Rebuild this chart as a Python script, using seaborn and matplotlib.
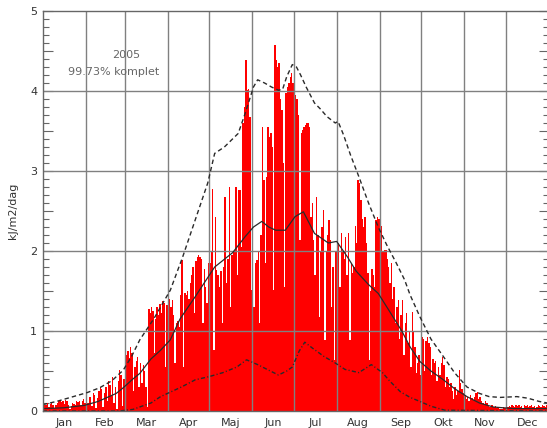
import numpy as np
import pandas as pd
import matplotlib
matplotlib.use("Agg")
import matplotlib.pyplot as plt
import seaborn as sns
from matplotlib.ticker import MultipleLocator, FixedLocator, FuncFormatter

# Month names and lengths (2005)
months = ["Jan", "Feb", "Mar", "Apr", "Maj", "Jun", "Jul", "Aug", "Sep", "Okt", "Nov", "Dec"]
month_days = [31, 28, 31, 30, 31, 30, 31, 31, 30, 31, 30, 31]

# Daily global radiation, kJ/m2/dag
jan = [0.06, 0.08, 0.07, 0.10, 0.05, 0.09, 0.11, 0.08, 0.04, 0.07, 0.10, 0.12, 0.14, 0.11, 0.13, 0.09,
       0.14, 0.12, 0.08, 0.03, 0.06, 0.10, 0.09, 0.07, 0.12, 0.11, 0.13, 0.08, 0.12, 0.15, 0.10]
feb = [0.14, 0.10, 0.18, 0.18, 0.06, 0.22, 0.20, 0.04, 0.16, 0.25, 0.30, 0.27, 0.05, 0.22, 0.30, 0.12,
       0.37, 0.33, 0.20, 0.43, 0.10, 0.30, 0.03, 0.38, 0.51, 0.45, 0.06, 0.40]
mar = [0.72, 0.70, 0.75, 0.66, 0.80, 0.72, 0.25, 0.55, 0.62, 0.68, 0.30, 0.60, 0.35, 0.58, 0.50, 0.30,
       0.05, 1.27, 1.22, 1.30, 1.25, 0.72, 1.15, 1.30, 1.20, 1.34, 1.22, 1.38, 1.35, 0.55, 1.32]
apr = [1.36, 1.40, 1.30, 1.39, 1.20, 0.60, 1.10, 1.12, 1.05, 1.45, 1.89, 0.55, 1.47, 1.45, 1.50,
       1.40, 1.60, 1.70, 1.80, 1.22, 1.88, 1.93, 1.95, 1.92, 1.90, 1.10, 1.78, 1.55, 1.35, 1.85]
maj = [1.85, 2.00, 2.78, 0.76, 2.43, 1.76, 1.70, 1.55, 1.75, 1.10, 1.80, 2.68, 1.60, 1.90, 2.80, 1.30,
       1.95, 2.00, 2.00, 2.80, 1.70, 2.76, 2.76, 2.05, 3.60, 3.80, 4.39, 4.01, 4.03, 3.68, 1.51]
jun = [1.01, 1.30, 1.85, 1.89, 2.00, 1.10, 2.20, 3.55, 2.89, 1.85, 2.92, 3.55, 3.43, 3.47, 3.30,
       1.51, 4.57, 4.39, 4.30, 4.35, 3.90, 3.76, 3.10, 1.55, 3.97, 4.05, 4.10, 4.18, 4.22, 4.10]
jul = [4.10, 3.95, 3.90, 3.70, 2.14, 3.47, 3.51, 3.55, 3.58, 3.60, 3.60, 3.55, 2.43, 2.60, 2.14, 1.70,
       2.68, 2.20, 1.18, 2.00, 2.30, 2.51, 0.89, 2.00, 2.20, 2.39, 2.14, 1.30, 1.80, 0.64, 2.00]
aug = [2.62, 2.10, 1.55, 2.22, 2.00, 1.90, 2.18, 1.70, 2.22, 0.89, 1.85, 1.72, 1.80, 2.31, 2.10, 2.89,
       2.85, 2.64, 2.40, 2.30, 2.43, 2.10, 1.72, 0.64, 1.50, 1.78, 1.70, 1.55, 2.39, 2.43, 2.40]
sep = [2.35, 2.31, 2.00, 2.01, 2.01, 1.90, 1.80, 1.60, 1.85, 1.40, 1.55, 1.10, 1.30, 1.39, 0.90,
       1.20, 1.39, 0.70, 1.10, 1.22, 0.85, 1.00, 0.55, 1.24, 1.00, 0.80, 0.47, 0.60, 0.70, 0.45]
okt = [0.93, 0.90, 0.50, 0.88, 0.93, 0.85, 0.80, 0.45, 0.65, 0.60, 0.62, 0.38, 0.55, 0.45, 0.60, 0.68,
       0.58, 0.30, 0.42, 0.40, 0.30, 0.35, 0.25, 0.15, 0.30, 0.20, 0.25, 0.51, 0.35, 0.28, 0.22]
nov = [0.20, 0.15, 0.18, 0.12, 0.20, 0.16, 0.14, 0.18, 0.22, 0.24, 0.15, 0.18, 0.12, 0.10, 0.08,
       0.12, 0.10, 0.06, 0.05, 0.08, 0.07, 0.05, 0.06, 0.04, 0.05, 0.03, 0.02, 0.03, 0.05, 0.04]
dec = [0.04, 0.05, 0.06, 0.05, 0.07, 0.06, 0.05, 0.08, 0.06, 0.07, 0.05, 0.06, 0.04, 0.07, 0.06, 0.08,
       0.05, 0.06, 0.07, 0.05, 0.06, 0.04, 0.05, 0.07, 0.06, 0.05, 0.08, 0.06, 0.05, 0.07, 0.06]

# Reference curves (day of year, value): maximum, mean and minimum
max_days = [0, 10, 22, 32, 41, 50, 58, 64, 70, 80, 92, 101, 110, 119, 124, 131, 141, 146, 152,
            155, 160, 165, 170, 173, 176, 180, 183, 186, 190, 196, 200, 205, 211, 213, 217, 222, 228,
            235, 242, 248, 255, 261, 265, 272, 280, 289, 297, 306, 315, 322, 330, 342, 350, 358, 364]
max_vals = [0.08, 0.12, 0.18, 0.23, 0.29, 0.38, 0.51, 0.68, 0.89, 1.15, 1.51, 1.93, 2.39, 2.85, 3.22,
            3.30, 3.47, 3.72, 4.05, 4.14, 4.10, 4.05, 4.01, 4.02, 4.18, 4.33, 4.30, 4.20, 4.05,
            3.85, 3.78, 3.68, 3.60, 3.62, 3.45, 3.20, 2.93, 2.60, 2.30, 2.08, 1.85, 1.64, 1.45, 1.18,
            0.90, 0.68, 0.48, 0.30, 0.22, 0.18, 0.17, 0.18, 0.16, 0.12, 0.10]
mean_days = [0, 15, 30, 40, 53, 58, 65, 70, 78, 85, 92, 99, 110, 124, 137, 146, 152, 158, 163,
             168, 175, 182, 188, 196, 206, 212, 220, 226, 235, 242, 250, 259, 265, 272, 280, 289,
             297, 306, 315, 325, 340, 364]
mean_vals = [0.03, 0.04, 0.07, 0.12, 0.22, 0.29, 0.40, 0.47, 0.65, 0.76, 0.89, 1.15, 1.43, 1.80,
             1.98, 2.18, 2.30, 2.37, 2.30, 2.26, 2.26, 2.43, 2.49, 2.22, 2.10, 2.12, 1.92, 1.75,
             1.58, 1.47, 1.25, 1.00, 0.80, 0.62, 0.50, 0.39, 0.28, 0.18, 0.10, 0.05, 0.03, 0.03]
min_days = [0, 55, 65, 78, 85, 90, 100, 110, 120, 130, 140, 147, 155, 163, 170, 176, 180, 185, 189,
            195, 203, 211, 218, 228, 237, 245, 250, 258, 265, 272, 280, 290, 364]
min_vals = [0.0, 0.0, 0.02, 0.10, 0.18, 0.22, 0.30, 0.39, 0.43, 0.48, 0.55, 0.64, 0.58, 0.51, 0.45,
            0.50, 0.55, 0.75, 0.86, 0.78, 0.68, 0.60, 0.52, 0.48, 0.58, 0.48, 0.38, 0.24, 0.17,
            0.12, 0.06, 0.01, 0.0]

year_label = "2005"
completeness_label = "99.73% komplet"
y_label = "kJ/m2/dag"

daily = np.concatenate([jan, feb, mar, apr, maj, jun, jul, aug, sep, okt, nov, dec])
df = pd.DataFrame({"day": np.arange(len(daily)) + 0.5, "value": daily})

sns.set_theme(style="white")
plt.rcParams["font.family"] = ["DejaVu Sans"]

fig = plt.figure(figsize=(5.47, 4.28), dpi=100)
ax = fig.add_axes([0.0782, 0.0397, 0.925, 0.9346])

sns.barplot(data=df, x="day", y="value", native_scale=True, width=1.0, color="#ff0000",
            saturation=1, linewidth=0, errorbar=None, antialiased=False, ax=ax, zorder=1)

line_color = "#2a2a2a"
sns.lineplot(x=max_days, y=max_vals, ax=ax, color=line_color, lw=1.0, zorder=4)
ax.lines[-1].set_dashes([3.2, 2.2])
sns.lineplot(x=mean_days, y=mean_vals, ax=ax, color=line_color, lw=0.9, zorder=4)
sns.lineplot(x=min_days, y=min_vals, ax=ax, color=line_color, lw=1.0, zorder=4)
ax.lines[-1].set_dashes([3.0, 1.6, 0.8, 1.6])

ax.set_xlim(0, 365)
ax.set_ylim(0, 5)

# Month boundaries as grid lines, month names centred in each month
starts = np.cumsum([0] + month_days[:-1])
mids = starts + np.array(month_days) / 2
grid_color = "#808080"
for s in starts[1:]:
    ax.axvline(s, color=grid_color, lw=1.0, zorder=3)
for v in range(1, 5):
    ax.axhline(v, color=grid_color, lw=1.0, zorder=3)

ax.xaxis.set_major_locator(FixedLocator(mids))
ax.set_xticklabels(months)
ax.tick_params(axis="x", length=0, pad=5, labelsize=8, labelcolor="#333333")

ax.yaxis.set_major_locator(MultipleLocator(0.5))
ax.yaxis.set_minor_locator(MultipleLocator(0.1))
ax.yaxis.set_major_formatter(FuncFormatter(lambda v, p: f"{int(v)}" if abs(v - round(v)) < 1e-6 else ""))
ax.tick_params(axis="y", which="major", direction="in", length=7, width=0.8, color="#666666",
               left=True, right=True, labelsize=8, labelcolor="#333333", pad=4)
ax.tick_params(axis="y", which="minor", direction="in", length=4, width=0.8, color="#666666",
               left=True, right=True)

ax.set_xlabel("")
ax.set_ylabel(y_label, fontsize=8, color="#333333", labelpad=9)

for sp in ax.spines.values():
    sp.set_color("#666666")
    sp.set_linewidth(1.0)
    sp.set_zorder(5)

ax.text(60, 4.45, year_label, ha="center", va="center", fontsize=8, color="#666666")
ax.text(51.4, 4.24, completeness_label, ha="center", va="center", fontsize=8, color="#666666")

fig.savefig("out.png", dpi=100)
